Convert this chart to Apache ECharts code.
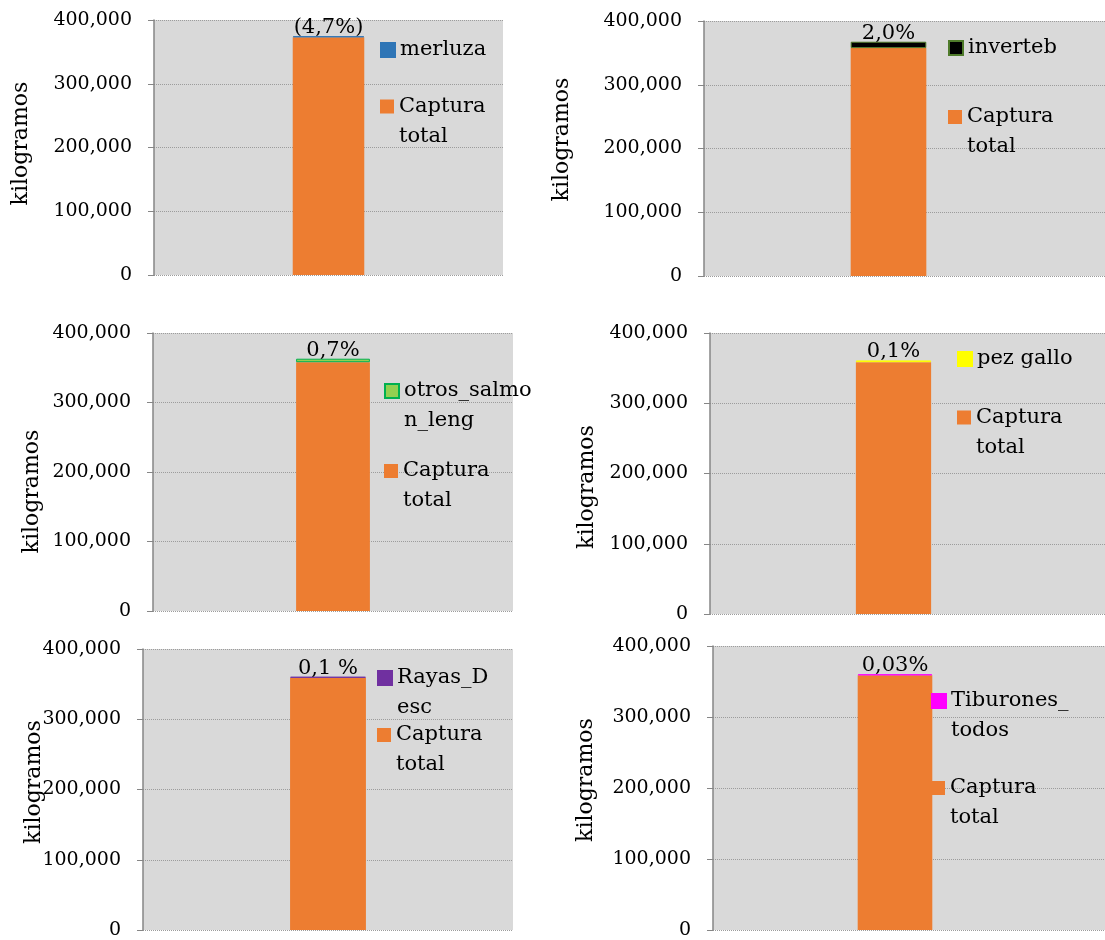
<!DOCTYPE html>
<html>
<head>
<meta charset="utf-8">
<script src="https://cdn.jsdelivr.net/npm/echarts@6/dist/echarts.min.js"></script>
<style>
html, body { margin: 0; padding: 0; background: #fff; }
#main { width: 1105px; height: 940px; }
</style>
</head>
<body>
<div id="main"></div>
<script>
// datos de cada panel (kg)
var especies = ['merluza', 'inverteb', 'otros_salmon_leng', 'pez gallo', 'Rayas_Desc', 'Tiburones_todos'];
var capturaEspecie = [1500, 10000, 5000, 2500, 1500, 1500];
var capturaTotal = [373000, 357500, 358000, 358500, 359000, 358700];
var porcentajes = ['(4,7%)', '2,0%', '0,7%', '0,1%', '0,1 %', '0,03%'];
var yTicks = [0, 100000, 200000, 300000, 400000];
var nombreTotal = 'Captura total';

// texto de leyenda partido como en el original
var textoLeyenda = {
    'otros_salmon_leng': 'otros_salmo\nn_leng',
    'Rayas_Desc': 'Rayas_D\nesc',
    'Tiburones_todos': 'Tiburones_\ntodos',
    'Captura total': 'Captura\ntotal'
};

// estilos
var colorTotal = '#ed7d31';
var coloresEspecie = ['#2e75b6', '#000000', '#92d050', '#ffff00', '#7030a0', '#ff00ff'];
var bordesEspecie = ['#2e75b6', '#4f7b2b', '#00b050', '#ffff00', '#7030a0', '#ff00ff'];
var fuente = 'DejaVu Serif';

// posicion de cada panel en pixeles
var paneles = [
    {left: 154, top: 20,  bottom: 275, right: 503,  bgRight: 503,  gap: 133, pad: [0, 0, 0, 8],  leg: [380, 50, 106.5]},
    {left: 704, top: 21,  bottom: 276, right: 1073, bgRight: 1105, gap: 142, pad: [0, 0, 0, 18], leg: [948, 48, 117]},
    {left: 153, top: 333, bottom: 611, right: 513,  bgRight: 513,  gap: 121, pad: [0, 39, 0, 0], leg: [384, 391, 471]},
    {left: 710, top: 333, bottom: 614, right: 1077, bgRight: 1105, gap: 123, pad: [0, 27, 0, 0], leg: [957, 359, 417.5]},
    {left: 143, top: 649, bottom: 930, right: 513,  bgRight: 513,  gap: 109, pad: [0, 0, 0, 15], leg: [377, 678, 735]},
    {left: 713, top: 646, bottom: 930, right: 1077, bgRight: 1105, gap: 127, pad: [0, 0, 0, 16], leg: [931, 701, 788]}
];

var LH = 30;
var yMin = yTicks[0], yMax = yTicks[yTicks.length - 1], yStep = yTicks[1] - yTicks[0];

var grid = [], xAxis = [], yAxis = [], series = [], legend = [];

// una leyenda por elemento; el icono queda a la altura de la primera linea
function itemLeyenda(nombre, x, yCentro) {
    var texto = textoLeyenda[nombre] || nombre;
    var dosLineas = texto.indexOf('\n') >= 0;
    return {
        orient: 'vertical',
        left: x,
        top: yCentro - (dosLineas ? 1.5 : 0.5) * LH,
        padding: 0,
        itemWidth: 14,
        itemHeight: 14,
        icon: 'rect',
        selectedMode: false,
        data: [nombre],
        formatter: function () { return dosLineas ? ' \n' + texto : texto; },
        textStyle: {fontFamily: fuente, fontSize: 21, color: '#000', lineHeight: LH}
    };
}

paneles.forEach(function (p, i) {
    var h = p.bottom - p.top;
    // fondo gris con lineas punteadas
    grid.push({left: p.left, top: p.top, width: p.bgRight - p.left, height: h,
        show: true, backgroundColor: '#d9d9d9', borderWidth: 0});
    // area del grafico con la barra
    grid.push({left: p.left, top: p.top, width: p.right - p.left, height: h});

    xAxis.push({gridIndex: 2 * i, type: 'category', data: [''], show: false});
    xAxis.push({gridIndex: 2 * i + 1, type: 'category', data: [''],
        axisLine: {show: false}, axisTick: {show: false}, axisLabel: {show: false}});

    yAxis.push({gridIndex: 2 * i, type: 'value', min: yMin, max: yMax, interval: yStep,
        axisLine: {show: false}, axisTick: {show: false}, axisLabel: {show: false},
        splitLine: {show: true, lineStyle: {type: 'dotted', color: '#9c9c9c', width: 1}}});
    yAxis.push({gridIndex: 2 * i + 1, type: 'value', min: yMin, max: yMax, interval: yStep,
        name: 'kilogramos', nameLocation: 'middle', nameGap: p.gap, nameMoveOverlap: false,
        nameTextStyle: {fontFamily: fuente, fontSize: 22, color: '#000', verticalAlign: 'middle', padding: p.pad},
        axisLine: {show: true, lineStyle: {color: '#868686', width: 1.5}},
        axisTick: {show: true, length: 6, lineStyle: {color: '#868686'}},
        axisLabel: {margin: 22, fontFamily: fuente, fontSize: 19, color: '#000',
            formatter: function (v) { return v.toLocaleString('en-US'); }},
        splitLine: {show: false}});

    series.push({
        name: nombreTotal, type: 'bar', stack: 'p' + i,
        xAxisIndex: 2 * i + 1, yAxisIndex: 2 * i + 1,
        barWidth: '20.5%',
        data: [capturaTotal[i]],
        itemStyle: {color: colorTotal}
    });
    series.push({
        name: especies[i], type: 'bar', stack: 'p' + i,
        xAxisIndex: 2 * i + 1, yAxisIndex: 2 * i + 1,
        barWidth: '20.5%',
        data: [capturaEspecie[i]],
        itemStyle: {color: coloresEspecie[i], borderColor: bordesEspecie[i], borderWidth: 1},
        label: {
            show: true, position: 'top', distance: -2,
            fontFamily: fuente, fontSize: 21, color: '#000',
            formatter: porcentajes[i]
        }
    });

    legend.push(itemLeyenda(especies[i], p.leg[0], p.leg[1]));
    legend.push(itemLeyenda(nombreTotal, p.leg[0], p.leg[2]));
});

var myChart = echarts.init(document.getElementById('main'));
var option = {
    animation: false,
    backgroundColor: '#fff',
    grid: grid,
    xAxis: xAxis,
    yAxis: yAxis,
    legend: legend,
    series: series
};
myChart.setOption(option);
window.onresize = function () { myChart.resize(); };
</script>
</body>
</html>
